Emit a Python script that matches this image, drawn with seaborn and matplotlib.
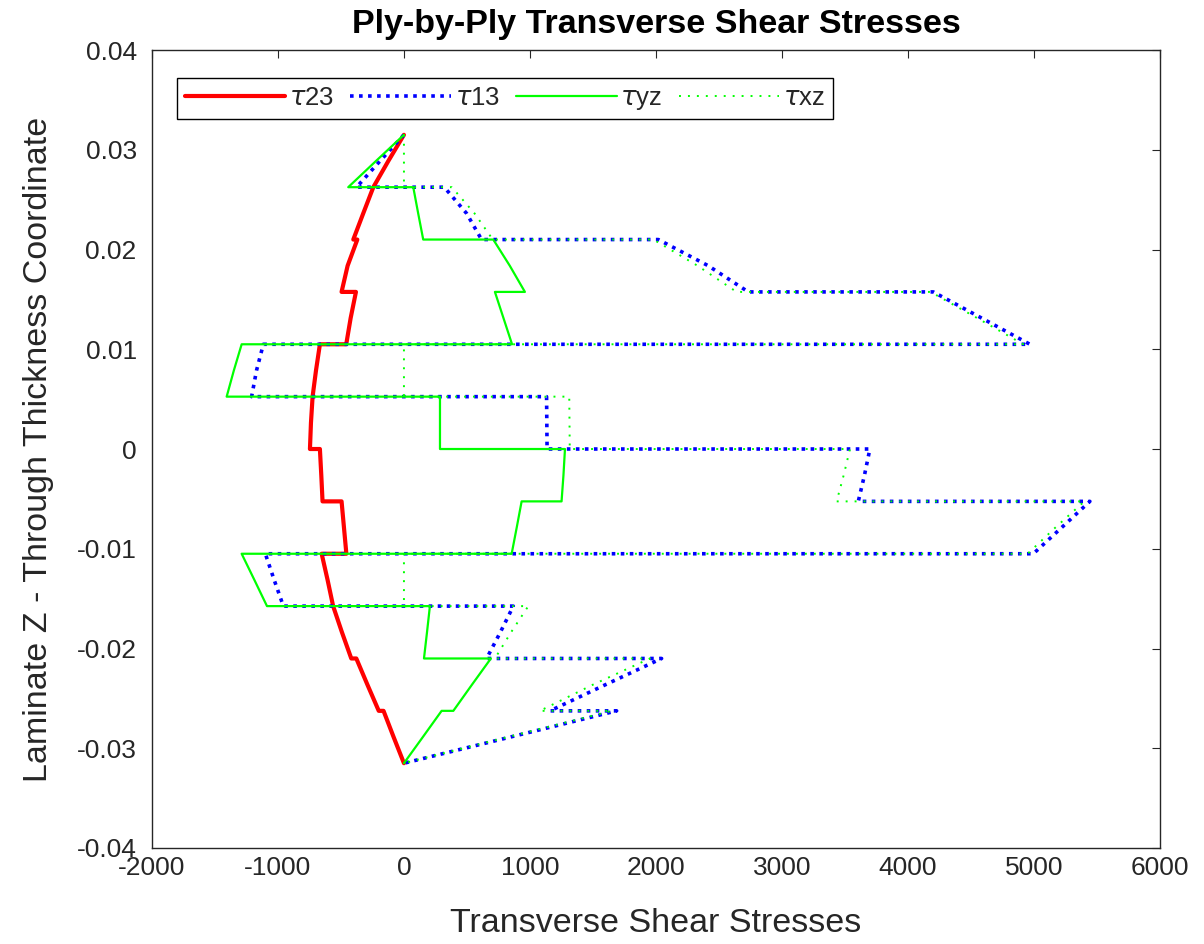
import matplotlib
matplotlib.use("Agg")
import matplotlib.pyplot as plt
from matplotlib.ticker import FuncFormatter
import numpy as np
import pandas as pd
import seaborn as sns

# Through-thickness coordinate: top, middle, bottom of each of the 12 plies
z = [0.0315, 0.028875, 0.02625,
     0.02625, 0.023625, 0.021,
     0.021, 0.018375, 0.01575,
     0.01575, 0.013125, 0.0105,
     0.0105, 0.007875, 0.00525,
     0.00525, 0.002625, 0.0,
     0.0, -0.002625, -0.00525,
     -0.00525, -0.007875, -0.0105,
     -0.0105, -0.013125, -0.01575,
     -0.01575, -0.018375, -0.021,
     -0.021, -0.023625, -0.02625,
     -0.02625, -0.028875, -0.0315]

tau23 = [0, -124, -243,
         -243, -323, -402,
         -370, -447, -495,
         -381, -423, -458,
         -667, -698, -725,
         -725, -738, -746,
         -667, -656, -646,
         -495, -476, -457,
         -653, -606, -562,
         -562, -492, -418,
         -378, -290, -200,
         -162, -82, 0]

tau13 = [0, -190, -376,
         320, 497, 616,
         2019, 2415, 2733,
         4201, 4585, 4968,
         -1116, -1170, -1209,
         1132, 1134, 1136,
         3698, 3655, 3606,
         5444, 5220, 4995,
         -1100, -1030, -957,
         868, 765, 656,
         2045, 1600, 1159,
         1688, 845, 0]

tau_yz = [0, -222, -442,
          74, 113, 153,
          709, 840, 960,
          722, 790, 858,
          -1288, -1350, -1407,
          286, 286, 286,
          1278, 1266, 1251,
          934, 895, 855,
          -1288, -1187, -1087,
          206, 183, 159,
          690, 540, 392,
          299, 150, 0]

tau_xz = [0, 0, 0,
          380, 560, 705,
          1980, 2330, 2640,
          4180, 4550, 4915,
          0, 0, 0,
          1312, 1314, 1316,
          3540, 3490, 3434,
          5400, 5170, 4950,
          0, 0, 0,
          987, 850, 722,
          1952, 1500, 1079,
          1650, 825, 0]

labels = [r"$\tau$23", r"$\tau$13", r"$\tau$yz", r"$\tau$xz"]
x_ticks = [-2000, -1000, 0, 1000, 2000, 3000, 4000, 5000, 6000]
y_ticks = [-0.04, -0.03, -0.02, -0.01, 0, 0.01, 0.02, 0.03, 0.04]

df = pd.DataFrame({"z": z, "tau23": tau23, "tau13": tau13,
                   "tau_yz": tau_yz, "tau_xz": tau_xz})

sns.set_style("white")
plt.rcParams["font.family"] = ["Liberation Sans", "DejaVu Sans"]
plt.rcParams["axes.unicode_minus"] = False
plt.rcParams["mathtext.fontset"] = "dejavusans"

fig = plt.figure(figsize=(12.04, 9.44), dpi=100)
ax = fig.add_axes([0.1262, 0.1017, 0.8372, 0.8453])

sns.lineplot(data=df, x="tau23", y="z", sort=False, estimator=None, ax=ax,
             color="#ff0000", linewidth=3.0, label=labels[0])
sns.lineplot(data=df, x="tau13", y="z", sort=False, estimator=None, ax=ax,
             color="#0000ff", linewidth=2.6, linestyle=(0, (1, 1.5)),
             label=labels[1])
sns.lineplot(data=df, x="tau_yz", y="z", sort=False, estimator=None, ax=ax,
             color="#00ff00", linewidth=1.6, label=labels[2])
sns.lineplot(data=df, x="tau_xz", y="z", sort=False, estimator=None, ax=ax,
             color="#00ff00", linewidth=1.4, linestyle=(0, (1, 3.6)),
             label=labels[3])

ax.set_xlim(-2000, 6000)
ax.set_ylim(-0.04, 0.04)
ax.set_xticks(x_ticks)
ax.set_yticks(y_ticks)
fmt = FuncFormatter(lambda v, p: "%g" % round(v, 4))
ax.xaxis.set_major_formatter(fmt)
ax.yaxis.set_major_formatter(fmt)

ax.tick_params(direction="in", top=True, right=True, length=6, width=0.8,
               labelsize=19, colors="#262626")
ax.tick_params(axis="x", pad=6)
ax.tick_params(axis="y", pad=11)
for s in ax.spines.values():
    s.set_color("#262626")
    s.set_linewidth(1.0)

ax.set_xlabel("Transverse Shear Stresses", fontsize=24.5, color="#262626",
              labelpad=20)
ax.set_ylabel("Laminate Z - Through Thickness Coordinate", fontsize=24.5,
              color="#262626", labelpad=16)
ax.set_title("Ply-by-Ply Transverse Shear Stresses", fontsize=24.5,
             fontweight="bold", color="black", pad=12)

leg = ax.legend(loc="upper left", bbox_to_anchor=(0.0248, 0.965), ncol=4,
                frameon=True, fancybox=False, edgecolor="black",
                framealpha=1, fontsize=18.5, handlelength=3.9,
                handletextpad=0.15, columnspacing=0.65, borderpad=0.3,
                borderaxespad=0)
leg.get_frame().set_linewidth(1.0)

fig.savefig("out.png", dpi=100)
